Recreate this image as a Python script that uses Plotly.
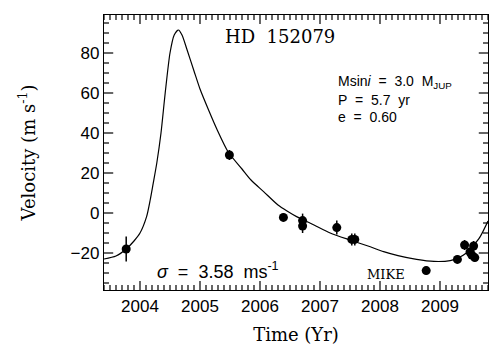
import numpy as np
import plotly.graph_objects as go

# Observations (year, velocity m/s, error m/s)
obs_time = [2003.77, 2005.49, 2006.39, 2006.71, 2006.71, 2007.28, 2007.53, 2007.58,
            2008.77, 2009.29, 2009.41, 2009.50, 2009.53, 2009.56, 2009.58]
obs_vel = [-18.0, 29.0, -2.2, -3.8, -6.5, -7.3, -13.2, -13.2,
           -28.8, -23.2, -16.0, -19.5, -21.0, -16.5, -22.3]
obs_err = [6.2, 2.5, 2.0, 3.5, 3.5, 3.5, 3.0, 3.0,
           2.0, 2.0, 2.5, 2.0, 2.0, 2.5, 2.0]

# Orbit fit curve
fit_time = [2003.40, 2003.60, 2003.77, 2003.90, 2004.00, 2004.11, 2004.17, 2004.22,
            2004.28, 2004.35, 2004.42, 2004.50, 2004.57, 2004.64, 2004.70, 2004.78,
            2004.90, 2005.00, 2005.15, 2005.28, 2005.47, 2005.70, 2005.85, 2006.06,
            2006.30, 2006.45, 2006.61, 2006.90, 2007.17, 2007.50, 2007.80, 2008.06,
            2008.30, 2008.61, 2008.90, 2009.17, 2009.30, 2009.44, 2009.55, 2009.67,
            2009.80]
fit_vel = [-23.0, -21.5, -18.0, -14.0, -10.0, -1.8, 6.5, 14.8,
           25.0, 40.0, 60.0, 80.0, 89.0, 91.5, 89.0, 82.0,
           71.0, 62.0, 51.0, 42.0, 30.5, 22.0, 16.5, 10.7,
           4.0, 1.0, -1.8, -6.0, -10.0, -13.5, -16.5, -19.3,
           -21.3, -23.2, -24.2, -23.8, -22.5, -20.0, -16.5, -11.8,
           -4.0]

x_ticks = [2004, 2005, 2006, 2007, 2008, 2009]
y_ticks = [-20, 0, 20, 40, 60, 80]
x_minor_step = 0.1
y_minor_step = 5

x_range = [2003.4, 2009.8]
y_range = [-38.5, 99]

# tick-mark lengths as a fraction of the axis span
MAJ_FRAC_V, MIN_FRAC_V = 0.033, 0.018   # vertical ticks (fraction of y span)
MAJ_FRAC_H, MIN_FRAC_H = 0.024, 0.013   # horizontal ticks (fraction of x span)

fig = go.Figure()

# inward tick marks on all four sides, drawn as one line trace
ys = y_range[1] - y_range[0]
xs = x_range[1] - x_range[0]
x_minor = np.arange(np.ceil(x_range[0] / x_minor_step) * x_minor_step, x_range[1] + 1e-9, x_minor_step)
y_minor = np.arange(np.ceil(y_range[0] / y_minor_step) * y_minor_step, y_range[1] + 1e-9, y_minor_step)
tx, ty = [], []
for xv in x_minor:
    major = any(abs(xv - t) < 1e-6 for t in x_ticks)
    L = (MAJ_FRAC_V if major else MIN_FRAC_V) * ys
    tx += [float(xv), float(xv), None, float(xv), float(xv), None]
    ty += [y_range[0], y_range[0] + L, None, y_range[1], y_range[1] - L, None]
for yv in y_minor:
    major = any(abs(yv - t) < 1e-6 for t in y_ticks)
    L = (MAJ_FRAC_H if major else MIN_FRAC_H) * xs
    tx += [x_range[0], x_range[0] + L, None, x_range[1], x_range[1] - L, None]
    ty += [float(yv), float(yv), None, float(yv), float(yv), None]
fig.add_trace(go.Scatter(x=tx, y=ty, mode="lines", line=dict(color="black", width=1.2),
                         hoverinfo="skip", showlegend=False, connectgaps=False))

fig.add_trace(go.Scatter(x=fit_time, y=fit_vel, mode="lines",
                         line=dict(color="black", width=1.2, shape="spline", smoothing=0.7),
                         hoverinfo="skip", showlegend=False))
fig.add_trace(go.Scatter(x=obs_time, y=obs_vel, mode="markers",
                         marker=dict(color="black", size=9),
                         error_y=dict(type="data", array=obs_err, color="black",
                                      thickness=1.5, width=0),
                         showlegend=False))

serif = "DejaVu Serif, serif"
sans = "Liberation Sans, Arial, sans-serif"
nb = "\u00a0"

ann = [
    dict(x=2006.33, y=88.5, text="HD" + nb * 2 + "152079", font=dict(family=serif, size=18), xanchor="center"),
    dict(x=2007.27, y=65.5, text="Msin<i>i</i>" + nb * 2 + "=" + nb * 2 + "3.0" + nb * 2 + "M<sub>JUP</sub>",
         font=dict(family=sans, size=14), xanchor="left"),
    dict(x=2007.27, y=56.5, text="P" + nb * 2 + "=" + nb * 2 + "5.7" + nb * 2 + "yr", font=dict(family=sans, size=14), xanchor="left"),
    dict(x=2007.27, y=48.0, text="e" + nb * 2 + "=" + nb * 2 + "0.60", font=dict(family=sans, size=14), xanchor="left"),
    dict(x=2004.25, y=-28.5, text="<i>σ</i>" + nb * 2 + "=" + nb * 2 + "3.58" + nb * 2 + "ms<sup>-1</sup>",
         font=dict(family=sans, size=18), xanchor="left"),
    dict(x=2007.75, y=-30.5, text="MIKE", font=dict(family=serif, size=13), xanchor="left"),
]
for a in ann:
    a["font"]["color"] = "black"
    fig.add_annotation(x=a["x"], y=a["y"], xref="x", yref="y", text=a["text"],
                       showarrow=False, font=a["font"], xanchor=a["xanchor"], yanchor="middle")

common = dict(ticks="", showline=True, linecolor="black", linewidth=1.3, mirror=True,
              showgrid=False, zeroline=False)

fig.update_layout(
    xaxis=dict(range=x_range, tickmode="array", tickvals=x_ticks, ticktext=[str(v) for v in x_ticks],
               tickfont=dict(family=sans, size=17, color="black"),
               title=dict(text="Time (Yr)", font=dict(family=serif, size=18, color="black"), standoff=16),
               **common),
    yaxis=dict(range=y_range, tickmode="array", tickvals=y_ticks,
               tickfont=dict(family=sans, size=17, color="black"),
               title=dict(text="Velocity (m s<sup>-1</sup>)", font=dict(family=serif, size=18, color="black"), standoff=30),
               **common),
    width=490, height=345, margin=dict(l=104, r=2, t=15, b=55),
    plot_bgcolor="white", paper_bgcolor="white",
)

fig.write_html("out.html", config={"displayModeBar": False})
